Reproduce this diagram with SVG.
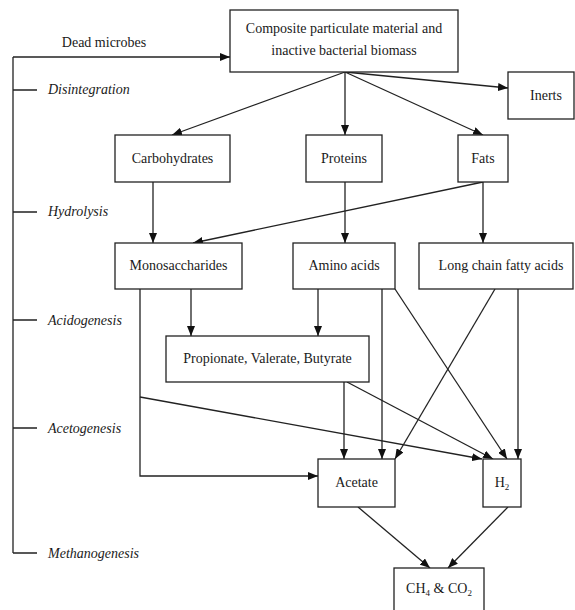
<svg xmlns="http://www.w3.org/2000/svg" width="575" height="610" viewBox="0 0 575 610">
<style>
.box{fill:#fff;stroke:#222;stroke-width:1.3}
.t{font-family:"Liberation Serif","Times New Roman",serif;font-size:14px;fill:#1a1a1a;text-anchor:middle}
.ph{font-family:"Liberation Serif","Times New Roman",serif;font-size:14px;font-style:italic;fill:#1a1a1a}
.ln{fill:none;stroke:#222;stroke-width:1.3}
.ar{fill:none;stroke:#222;stroke-width:1.3;marker-end:url(#ah)}
</style>
<defs>
<marker id="ah" viewBox="0 0 10 8" refX="10" refY="4" markerWidth="10" markerHeight="8" markerUnits="userSpaceOnUse" orient="auto">
<path d="M0,0 L10,4 L0,8 Z" fill="#111"/>
</marker>
</defs>
<rect width="575" height="610" fill="#fff"/>

<g id="phases">
<path class="ln" d="M13,57 V553 M13,90 H37 M13,212 H37 M13,320 H37 M13,428 H37 M13,553 H37"/>
<text class="ph" x="48" y="94">Disintegration</text>
<text class="ph" x="48" y="216">Hydrolysis</text>
<text class="ph" x="48" y="325">Acidogenesis</text>
<text class="ph" x="48" y="433">Acetogenesis</text>
<text class="ph" x="48" y="558">Methanogenesis</text>
<text class="t" x="104" y="47">Dead microbes</text>
</g>

<g id="connectors">
<path class="ar" d="M13,57 H230"/>
<path class="ar" d="M345,72 L172,135"/>
<path class="ar" d="M345,72 V135"/>
<path class="ar" d="M345,72 L483,135"/>
<path class="ar" d="M345,72 L508,88"/>
<path class="ar" d="M153,182 V243"/>
<path class="ar" d="M345,182 V243"/>
<path class="ar" d="M483,182 V243"/>
<path class="ar" d="M483,182 L193,243"/>
<path class="ar" d="M191,289 V336"/>
<path class="ar" d="M318,289 V336"/>
<path class="ar" d="M140,289 V476 H318"/>
<path class="ar" d="M140,397 L482,459"/>
<path class="ar" d="M344,382 V459"/>
<path class="ar" d="M347,382 L493,459"/>
<path class="ar" d="M382,289 V459"/>
<path class="ar" d="M395,289 L507,459"/>
<path class="ar" d="M495,289 L395,459"/>
<path class="ar" d="M518,289 V459"/>
<path class="ar" d="M358,507 L430,568"/>
<path class="ar" d="M508,507 L448,568"/>
</g>

<g id="composite">
<rect class="box" x="230" y="10" width="228" height="62"/>
<text class="t" x="344" y="33">Composite particulate material and</text>
<text class="t" x="344" y="55">inactive bacterial biomass</text>
</g>
<g id="inerts">
<rect class="box" x="508" y="72" width="66" height="47"/>
<text class="t" x="546" y="100">Inerts</text>
</g>
<g id="carbohydrates">
<rect class="box" x="115" y="135" width="115" height="47"/>
<text class="t" x="172.5" y="163">Carbohydrates</text>
</g>
<g id="proteins">
<rect class="box" x="306" y="135" width="76" height="47"/>
<text class="t" x="344" y="163">Proteins</text>
</g>
<g id="fats">
<rect class="box" x="458" y="135" width="50" height="47"/>
<text class="t" x="483" y="163">Fats</text>
</g>
<g id="monosaccharides">
<rect class="box" x="115" y="243" width="127" height="46"/>
<text class="t" x="178.5" y="270">Monosaccharides</text>
</g>
<g id="amino-acids">
<rect class="box" x="293" y="243" width="102" height="46"/>
<text class="t" x="344" y="270">Amino acids</text>
</g>
<g id="lcfa">
<rect class="box" x="419" y="243" width="154" height="46"/>
<text class="t" x="501" y="270">Long chain fatty acids</text>
</g>
<g id="vfa">
<rect class="box" x="166" y="336" width="203" height="46"/>
<text class="t" x="267.5" y="363">Propionate, Valerate, Butyrate</text>
</g>
<g id="acetate">
<rect class="box" x="318" y="459" width="77" height="48"/>
<text class="t" x="356.5" y="487">Acetate</text>
</g>
<g id="h2">
<rect class="box" x="483" y="459" width="38" height="48"/>
<text class="t" x="502" y="487">H<tspan font-size="9" dy="3">2</tspan></text>
</g>
<g id="ch4-co2">
<rect class="box" x="394" y="568" width="90" height="50"/>
<text class="t" x="439" y="593">CH<tspan font-size="9" dy="3">4</tspan><tspan dy="-3"> &amp; CO</tspan><tspan font-size="9" dy="3">2</tspan></text>
</g>
</svg>
